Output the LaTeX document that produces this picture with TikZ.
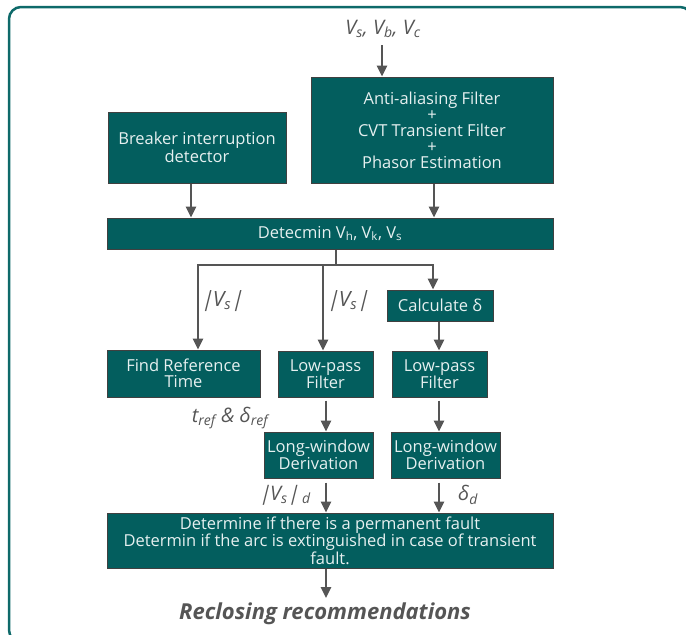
\documentclass[tikz,border=0pt]{standalone}
\usepackage{fontspec}
\setmainfont{Open Sans}
\newfontfamily\slantfont[FakeSlant=0.25]{Open Sans}
\usetikzlibrary{arrows.meta}
\definecolor{boxfill}{HTML}{035E5E}
\definecolor{frame}{HTML}{0E6A6A}
\definecolor{arrowgray}{HTML}{555555}
\definecolor{boxtext}{HTML}{E6F0F0}
\newcommand{\sbar}{{\slantfont\upshape |}}
\tikzset{
  x=1pt, y=-1pt,
  box/.style={draw=black!75, line width=1pt, fill=boxfill, text=boxtext, align=center,
    inner sep=0pt, font=\fontsize{16.5}{16}\selectfont},
  arr/.style={draw=arrowgray, line width=2.6pt, -{Triangle[width=10pt,length=11pt]}},
  ln/.style={draw=arrowgray, line width=2.6pt},
  lbl/.style={text=arrowgray, font=\fontsize{21}{22}\selectfont\itshape, inner sep=0pt}
}
\begin{document}
\begin{tikzpicture}
\useasboundingbox (0,0) rectangle (686,635);
\begin{scope}
\clip (0,0) rectangle (686,635);
\draw[frame, line width=2.5pt, rounded corners=12pt] (9,7) rectangle (692,642);
\end{scope}

\node[lbl, font=\fontsize{20}{22}\selectfont\itshape] (in) at (383,29) {V\textsubscript{s}, V\textsubscript{b}, V\textsubscript{c}};
\node[box, minimum width=242pt, minimum height=106pt] (anti) at (432,130)
  {Anti-aliasing Filter\\+\\CVT Transient Filter\\+\\Phasor Estimation};
\node[box, minimum width=178pt, minimum height=71pt] (brk) at (197,147.5)
  {Breaker interruption\\detector};
\node[box, minimum width=446pt, minimum height=31pt] (det) at (330,233.5)
  {Detecmin V\textsubscript{h}, V\textsubscript{k}, V\textsubscript{s}};
\node[box, minimum width=106pt, minimum height=31pt] (calc) at (440,305.5) {Calculate δ};
\node[box, minimum width=153pt, minimum height=47pt] (find) at (183.5,373.5) {Find Reference\\Time};
\node[box, minimum width=95pt, minimum height=46pt] (lp1) at (325.5,374) {Low-pass\\Filter};
\node[box, minimum width=95pt, minimum height=46pt] (lp2) at (439.5,374) {Low-pass\\Filter};
\node[box, minimum width=109pt, minimum height=46pt] (lw1) at (318.5,455) {Long-window\\Derivation};
\node[box, minimum width=109pt, minimum height=46pt] (lw2) at (445.5,455) {Long-window\\Derivation};
\node[box, minimum width=446pt, minimum height=55pt] (fin) at (330,540.5)
  {Determine if there is a permanent fault\\Determin if the arc is extinguished in case of transient\\fault.};
\node[text=arrowgray, font=\fontsize{22}{24}\selectfont\bfseries\itshape, inner sep=0pt] (rec) at (325,614) {Reclosing recommendations};

% labels
\node[lbl] (l1) at (222,301) {\sbar V\textsubscript{s}\sbar};
\node[lbl] (l2) at (348,301) {\sbar V\textsubscript{s}\sbar};
\node[lbl, font=\fontsize{20}{22}\selectfont\itshape] (l3) at (230,418) {t\textsubscript{ref} \& δ\textsubscript{ref}};
\node[lbl, font=\fontsize{20}{21}\selectfont\itshape] (l4) at (285,495) {\sbar V\textsubscript{s}\sbar\kern3.5pt\textsubscript{d}};
\node[lbl, font=\fontsize{20}{21}\selectfont\itshape] (l5) at (468,495) {δ\textsubscript{d}};

% connectors
\draw[arr] (382,45) -- (anti.north -| 382,0);
\draw[arr] (brk.south -| 191,0) -- (det.north -| 191,0);
\draw[arr] (anti.south -| 434,0) -- (det.north -| 434,0);
\coordinate (j) at (336,265);
\coordinate (jl) at (198,265);
\coordinate (jr) at (433,265);
\draw[ln] (det.south -| j) -- (j);
\draw[ln, line cap=rect] (jl) -- (jr);
\draw[arr] (jl) -- (find.north -| jl);
\draw[arr] (323,265) -- (lp1.north -| 323,0);
\draw[arr] (jr) -- (calc.north -| jr);
\draw[arr] (calc.south -| 439,0) -- (lp2.north -| 439,0);
\draw[arr] ([yshift=-3pt]lp1.south -| 326,0) -- (lw1.north -| 326,0);
\draw[arr] ([yshift=-3pt]lp2.south -| 439,0) -- (lw2.north -| 439,0);
\draw[arr] ([yshift=-4pt]lw1.south -| 326,0) -- (fin.north -| 326,0);
\draw[arr] ([yshift=-4pt]lw2.south -| 439,0) -- (fin.north -| 439,0);
\draw[arr] (fin.south -| 326,0) -- (326,598);
\end{tikzpicture}
\end{document}
